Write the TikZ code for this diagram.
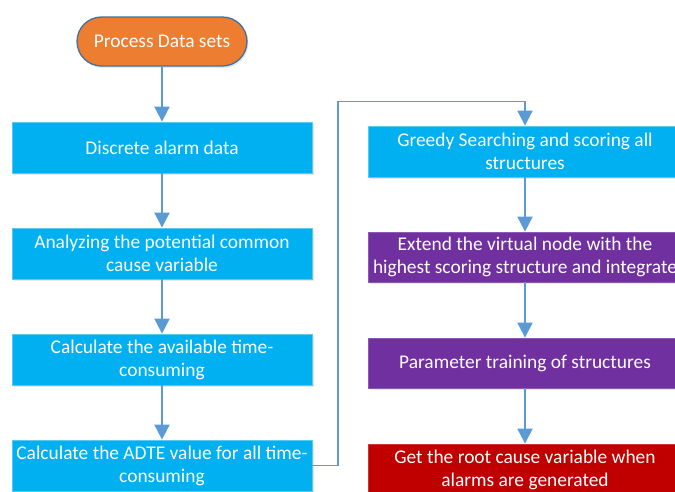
\documentclass[tikz,border=0pt]{standalone}
\usepackage{fontspec}
\setmainfont{Carlito}
\usetikzlibrary{arrows.meta,shadows}
\definecolor{cblue}{HTML}{00B0F0}
\definecolor{cblueedge}{HTML}{5BC8F0}
\definecolor{corange}{HTML}{ED7D31}
\definecolor{cpurple}{HTML}{7030A0}
\definecolor{cred}{HTML}{C00000}
\definecolor{carrow}{HTML}{5B9BD5}
\definecolor{cterm}{HTML}{41719C}
\tikzset{
  x=1pt,y=1pt,
  basebox/.style={rectangle, minimum height=51pt, text=white, align=center,
    font=\fontsize{19.4}{23}\selectfont, inner sep=2pt,
    drop shadow={opacity=0.18, shadow xshift=1.5pt, shadow yshift=-2pt}},
  leftbox/.style={basebox, minimum width=300pt, fill=cblue, draw=cblueedge, line width=0.8pt},
  rightbox/.style={basebox, minimum width=314pt},
  term/.style={basebox, minimum width=170pt, minimum height=49pt, fill=corange,
    draw=cterm, line width=1.3pt, rounded corners=24.5pt},
  flow/.style={draw=carrow, line width=2pt, -{Triangle[length=15pt,width=15pt]}},
  loopline/.style={draw=carrow, line width=1.8pt, -{Triangle[length=15pt,width=15pt]}}
}
\begin{document}
\begin{tikzpicture}
\useasboundingbox (0,0) rectangle (675,-491);
\clip (0,0) rectangle (675,-491);
\fill[white] (0,0) rectangle (675,-491);
\node[term] (t) at (162,-41.5) {Process Data sets};
\node[leftbox] (b1) at (162,-147.5) {Discrete alarm data};
\node[leftbox] (b2) at (162,-253.5) {Analyzing the potential common\\cause variable};
\node[leftbox] (b3) at (162,-359.5) {Calculate the available time-\\consuming};
\node[leftbox] (b4) at (162,-465.5) {Calculate the ADTE value for all time-\\consuming};
\node[rightbox, fill=cblue, draw=cblueedge, line width=0.8pt] (r1) at (525,-151.5) {Greedy Searching and scoring all\\structures};
\node[rightbox, minimum height=50pt, fill=cpurple, draw=cpurple!80!white, line width=0.8pt] (r2) at (525,-257) {Extend the virtual node with the\\highest scoring structure and integrate};
\node[rightbox, minimum height=50pt, fill=cpurple, draw=cpurple!80!white, line width=0.8pt] (r3) at (525,-363) {Parameter training of structures};
\node[rightbox, fill=cred, draw=cred!80!white, line width=0.8pt] (r4) at (525,-469.5) {Get the root cause variable when\\alarms are generated};
\coordinate (c1) at (338,-101.5);
\draw[flow] (t) -- (b1);
\draw[flow] (b1) -- (b2);
\draw[flow] (b2) -- (b3);
\draw[flow] (b3) -- (b4);
\draw[loopline] (b4.east) -| (c1) -| (r1.north);
\draw[flow] (r1) -- (r2);
\draw[flow] (r2) -- (r3);
\draw[flow] (r3) -- (r4);
\end{tikzpicture}
\end{document}
